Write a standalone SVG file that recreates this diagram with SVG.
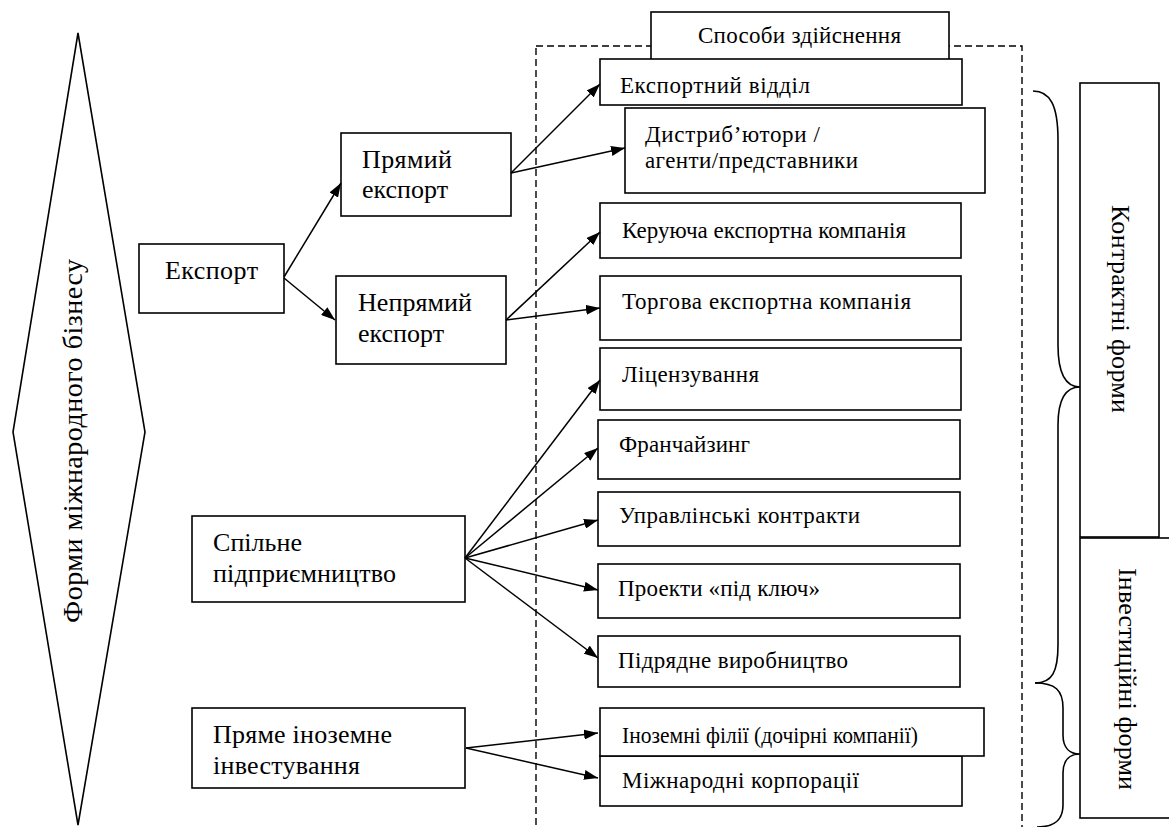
<svg xmlns="http://www.w3.org/2000/svg" width="1169" height="827" viewBox="0 0 1169 827">
<defs>
<marker id="ah" viewBox="0 0 14 10" refX="14" refY="5" markerWidth="14" markerHeight="10" orient="auto" markerUnits="userSpaceOnUse"><path d="M0,0 L14,5 L0,10 z" fill="#000"/></marker>
<style>
.b{fill:#fff;stroke:#000;stroke-width:1.6}
.c{stroke:#000;stroke-width:1.5;fill:none;marker-end:url(#ah)}
.br{stroke:#000;stroke-width:1.6;fill:none}
text{font-family:"Liberation Serif","Times New Roman",serif;fill:#000}
</style>
</defs>
<rect width="1169" height="827" fill="#fff"/>
<rect x="536" y="46" width="486" height="800" fill="none" stroke="#000" stroke-width="1.4" stroke-dasharray="7 4"/>

<g id="forms" font-family="Liberation Serif, serif">
<polygon class="b" points="78,33 145,432 78,825 13,432"/>
<text font-size="28" transform="translate(82,441) rotate(-90)" text-anchor="middle" textLength="364">Форми міжнародного бізнесу</text>
</g>

<g id="left-nodes" font-family="Liberation Serif, serif" font-size="26">
<g id="export">
<rect class="b" x="139" y="244" width="145" height="69"/>
<text x="165" y="279" textLength="93">Експорт</text>
</g>
<g id="direct">
<rect class="b" x="341" y="133" width="170" height="83"/>
<text x="362" y="168" textLength="90">Прямий</text>
<text x="362" y="198" textLength="86">експорт</text>
</g>
<g id="indirect">
<rect class="b" x="336" y="276" width="170" height="88"/>
<text x="358" y="311" textLength="114">Непрямий</text>
<text x="358" y="342" textLength="86">експорт</text>
</g>
<g id="joint">
<rect class="b" x="192" y="516" width="273" height="86"/>
<text x="213" y="551" textLength="89">Спільне</text>
<text x="213" y="582" textLength="183">підприємництво</text>
</g>
<g id="fdi">
<rect class="b" x="192" y="708" width="273" height="80"/>
<text x="213" y="743" textLength="179">Пряме іноземне</text>
<text x="213" y="774" textLength="147">інвестування</text>
</g>
</g>

<g id="right-nodes" font-family="Liberation Serif, serif" font-size="23">
<g id="methods">
<rect class="b" x="651" y="12" width="298" height="60"/>
<text x="698" y="43" textLength="203">Способи здійснення</text>
</g>
<g id="exportdept">
<rect class="b" x="600" y="59" width="362" height="46"/>
<text x="620" y="93" textLength="190">Експортний відділ</text>
</g>
<g id="distrib">
<rect class="b" x="625" y="108" width="360" height="85"/>
<text x="645" y="142" textLength="175">Дистриб’ютори /</text>
<text x="645" y="168" textLength="213">агенти/представники</text>
</g>
<g id="emc">
<rect class="b" x="600" y="203" width="361" height="55"/>
<text x="622" y="238" textLength="284">Керуюча експортна компанія</text>
</g>
<g id="etc">
<rect class="b" x="600" y="276" width="361" height="64"/>
<text x="622" y="309" textLength="289">Торгова експортна компанія</text>
</g>
<g id="licensing">
<rect class="b" x="600" y="348" width="361" height="62"/>
<text x="622" y="382" textLength="137">Ліцензування</text>
</g>
<g id="franchising">
<rect class="b" x="598" y="420" width="362" height="59"/>
<text x="619" y="452" textLength="131">Франчайзинг</text>
</g>
<g id="management">
<rect class="b" x="598" y="492" width="362" height="54"/>
<text x="619" y="523" textLength="241">Управлінські контракти</text>
</g>
<g id="turnkey">
<rect class="b" x="598" y="564" width="362" height="54"/>
<text x="618" y="596" textLength="202">Проекти «під ключ»</text>
</g>
<g id="contract">
<rect class="b" x="598" y="636" width="362" height="51"/>
<text x="618" y="668" textLength="230">Підрядне виробництво</text>
</g>
<g id="multinational">
<rect class="b" x="600" y="756" width="362" height="50"/>
<text x="622" y="788" textLength="237">Міжнародні корпорації</text>
</g>
<g id="subsidiaries">
<rect class="b" x="600" y="708" width="384" height="48"/>
<text x="622" y="743" textLength="296" lengthAdjust="spacingAndGlyphs">Іноземні філії (дочірні компанії)</text>
</g>
</g>

<g id="contractual" font-family="Liberation Serif, serif">
<rect class="b" x="1080" y="83" width="79" height="454"/>
<text font-size="26" transform="translate(1112,309) rotate(90)" text-anchor="middle" textLength="208">Контрактні форми</text>
</g>
<g id="investment" font-family="Liberation Serif, serif">
<rect class="b" x="1080" y="538" width="100" height="280"/>
<text font-size="26" transform="translate(1119,679) rotate(90)" text-anchor="middle" textLength="222">Інвестиційні форми</text>
</g>

<g id="braces">
<path class="br" d="M1033,91 C1050,91 1058,105 1058,140 L1058,345 C1058,375 1066,387 1080,387 C1066,387 1058,399 1058,425 L1058,645 C1058,672 1052,683 1035,683"/>
<path class="br" d="M1035,683 C1055,683 1063,690 1063,708 L1063,735 C1063,748 1070,754 1080,754 C1070,754 1063,760 1063,773 L1063,805 C1063,820 1055,827 1037,827"/>
</g>

<g id="connectors">
<line class="c" x1="284" y1="277" x2="341" y2="183"/>
<line class="c" x1="284" y1="278" x2="335" y2="320"/>
<line class="c" x1="511" y1="173" x2="600" y2="84"/>
<line class="c" x1="511" y1="173" x2="625" y2="148"/>
<line class="c" x1="506" y1="320" x2="600" y2="232"/>
<line class="c" x1="506" y1="320" x2="600" y2="308"/>
<line class="c" x1="465" y1="558" x2="600" y2="380"/>
<line class="c" x1="465" y1="558" x2="598" y2="448"/>
<line class="c" x1="465" y1="558" x2="598" y2="520"/>
<line class="c" x1="465" y1="558" x2="598" y2="590"/>
<line class="c" x1="465" y1="558" x2="598" y2="658"/>
<line class="c" x1="466" y1="748" x2="598" y2="733"/>
<line class="c" x1="466" y1="748" x2="598" y2="778"/>
</g>
</svg>
